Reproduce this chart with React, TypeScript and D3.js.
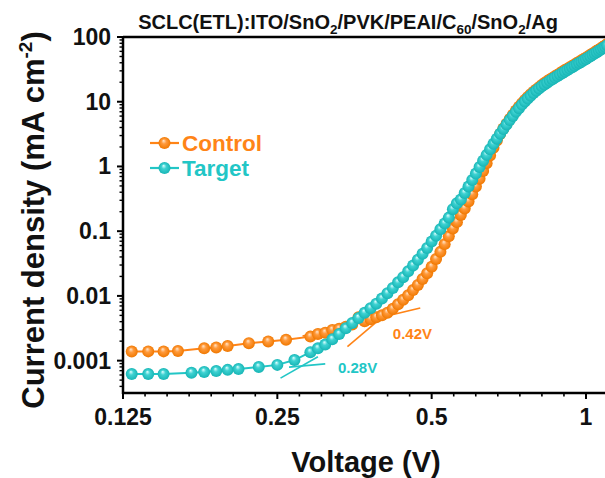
import React from 'react';
import * as d3 from 'd3';

const W = 605;
const H = 478;
const FONT = "'Liberation Sans', Arial, Helvetica, sans-serif";
const ORANGE = '#FF8417';
const CYAN = '#22C6C6';

// Control (orange) — voltage (V) and current density (mA cm^-2)
const controlV = [
  0.13, 0.14, 0.15, 0.16, 0.18, 0.19, 0.2, 0.22, 0.24, 0.26, 0.29, 0.3, 0.31, 0.32, 0.33, 0.34,
  0.35, 0.36, 0.37, 0.38, 0.39, 0.4, 0.41, 0.42, 0.43, 0.44, 0.45, 0.46, 0.47, 0.48, 0.49, 0.5,
  0.51, 0.52, 0.53, 0.54, 0.55, 0.56, 0.57, 0.58, 0.59, 0.6, 0.61, 0.62, 0.63, 0.64, 0.65, 0.66,
  0.67, 0.68, 0.69, 0.7, 0.71, 0.72, 0.73, 0.74, 0.75, 0.76, 0.77, 0.78, 0.79, 0.8, 0.81, 0.82,
  0.83, 0.84, 0.85, 0.86, 0.87, 0.88, 0.89, 0.9, 0.91, 0.92, 0.93, 0.94, 0.95, 0.96, 0.97, 0.98,
  0.99, 1.0, 1.01, 1.02, 1.03, 1.04, 1.05, 1.06, 1.07, 1.08, 1.09, 1.1,
];
const controlJ = [
  0.00138, 0.00139, 0.00139, 0.00141, 0.00155, 0.0016, 0.00168, 0.00186, 0.00198, 0.0021, 0.00235, 0.00258, 0.0027, 0.00298, 0.0031, 0.00335,
  0.00363, 0.00468, 0.00407, 0.00437, 0.00468, 0.00501, 0.0055, 0.00631, 0.00741, 0.00871, 0.0102, 0.0123, 0.0148, 0.0182, 0.0224, 0.0282,
  0.0372, 0.0479, 0.0631, 0.0832, 0.11, 0.138, 0.178, 0.224, 0.288, 0.372, 0.49, 0.646, 0.851, 1.12, 1.48, 1.95,
  2.51, 3.16, 3.85, 4.57, 5.41, 6.31, 7.29, 8.34, 9.44, 10.6, 11.8, 13.0, 14.3, 15.5, 16.8, 18.1,
  19.4, 20.7, 22.0, 23.3, 24.7, 26.1, 27.6, 29.2, 30.8, 32.4, 34.0, 35.8, 37.7, 39.5, 41.5, 43.6,
  45.7, 48.0, 50.4, 52.8, 55.5, 58.2, 61.1, 64.1, 67.3, 70.6, 74.1, 77.8,
];

// Target (cyan)
const targetV = [
  0.13, 0.14, 0.15, 0.17, 0.18, 0.19, 0.2, 0.21, 0.23, 0.25, 0.27, 0.29, 0.3, 0.31, 0.32, 0.33,
  0.34, 0.35, 0.36, 0.37, 0.38, 0.39, 0.4, 0.41, 0.42, 0.43, 0.44, 0.45, 0.46, 0.47, 0.48, 0.49,
  0.5, 0.51, 0.52, 0.53, 0.54, 0.55, 0.56, 0.57, 0.58, 0.59, 0.6, 0.61, 0.62, 0.63, 0.64, 0.65,
  0.66, 0.67, 0.68, 0.69, 0.7, 0.71, 0.72, 0.73, 0.74, 0.75, 0.76, 0.77, 0.78, 0.79, 0.8, 0.81,
  0.82, 0.83, 0.84, 0.85, 0.86, 0.87, 0.88, 0.89, 0.9, 0.91, 0.92, 0.93, 0.94, 0.95, 0.96, 0.97,
  0.98, 0.99, 1.0, 1.01, 1.02, 1.03, 1.04, 1.05, 1.06, 1.07, 1.08, 1.09, 1.1,
];
const targetJ = [
  0.00062, 0.00062, 0.00062, 0.00065, 0.00067, 0.00069, 0.00072, 0.00074, 0.0008, 0.00086, 0.00102, 0.00135, 0.00155, 0.00178, 0.00214, 0.00257,
  0.00316, 0.0038, 0.00457, 0.0055, 0.00646, 0.00759, 0.00912, 0.011, 0.0132, 0.0162, 0.0195, 0.024, 0.0295, 0.0363, 0.0447, 0.055,
  0.0692, 0.0851, 0.107, 0.132, 0.162, 0.219, 0.269, 0.309, 0.389, 0.49, 0.617, 0.776, 0.977, 1.23, 1.51, 1.84,
  2.24, 2.69, 3.2, 3.78, 4.45, 5.2, 6.04, 6.97, 7.96, 9.02, 10.1, 11.2, 12.4, 13.6, 14.8, 16.0,
  17.3, 18.5, 19.7, 21.0, 22.3, 23.6, 24.9, 26.4, 27.9, 29.4, 30.9, 32.5, 34.2, 36.0, 37.8, 39.6,
  41.6, 43.7, 45.8, 48.1, 50.5, 53.0, 55.6, 58.3, 61.2, 64.3, 67.5, 70.8, 74.3,
];

// Tangent (fit) lines: [V, J]
const controlFitLow = [[0.28, 0.00239], [0.475, 0.0065]];
const controlFitHigh = [[0.3425, 0.00164], [0.42, 0.0065]];
const targetFitLow = [[0.2635, 0.000794], [0.31, 0.00089]];
const targetFitHigh = [[0.2536, 0.000537], [0.3, 0.00115]];

const xTicks = [0.125, 0.25, 0.5, 1];
const xTickLabels = ['0.125', '0.25', '0.5', '1'];
const yTicks = [0.001, 0.01, 0.1, 1, 10, 100];
const yTickLabels = ['0.001', '0.01', '0.1', '1', '10', '100'];
const seriesNames = ['Control', 'Target'];
const controlThreshold = '0.42V';
const targetThreshold = '0.28V';

const L = 123;
const R = 605;
const T = 37;
const B = 393;

export default function App() {
  const x = d3.scaleLog().base(2).domain([0.125, 1]).range([L, 586]);
  const y = d3.scaleLog().domain([Math.pow(10, -3.5), 100]).range([B, T]);

  const ctrl = controlV.map((v, i) => [v, controlJ[i]] as [number, number]);
  const targ = targetV.map((v, i) => [v, targetJ[i]] as [number, number]);
  const line = d3
    .line<[number, number]>()
    .x((d) => x(d[0]))
    .y((d) => y(d[1]));

  const xMinor: number[] = [];
  for (let j = -3; j <= 0; j++) {
    for (let i = 1; i <= 6; i++) {
      const v = Math.pow(2, j + i / 7);
      if (x(v) <= R) xMinor.push(v);
    }
  }
  const yMinor: number[] = [];
  for (let e = -4; e <= 1; e++) {
    for (let m = 2; m <= 9; m++) {
      const v = m * Math.pow(10, e);
      const py = y(v);
      if (py <= B && py >= T) yMinor.push(v);
    }
  }

  const renderSeries = (data: [number, number][], color: string, grad: string, fits: number[][][]) => (
    <g>
      <path d={line(data) || ''} fill="none" stroke={color} strokeWidth={2} />
      {fits.map((f, i) => (
        <path key={i} d={line(f as [number, number][]) || ''} fill="none" stroke={color} strokeWidth={1.6} />
      ))}
      {data.map((d, i) => (
        <circle key={i} cx={x(d[0])} cy={y(d[1])} r={6} fill={`url(#${grad})`} />
      ))}
    </g>
  );

  const legendItems = [
    { name: seriesNames[0], color: ORANGE, grad: 'gO', y: 143 },
    { name: seriesNames[1], color: CYAN, grad: 'gC', y: 168 },
  ];

  return (
    <svg
      width={W}
      height={H}
      style={{ position: 'absolute', left: 0, top: 0, background: '#fff' }}
      fontFamily={FONT}
    >
      <defs>
        <radialGradient id="gO" cx="0.5" cy="0.5" r="0.5" fx="0.42" fy="0.3">
          <stop offset="0%" stopColor="#FFE6CC" />
          <stop offset="40%" stopColor="#FF9A3C" />
          <stop offset="100%" stopColor="#F07800" />
        </radialGradient>
        <radialGradient id="gC" cx="0.5" cy="0.5" r="0.5" fx="0.42" fy="0.3">
          <stop offset="0%" stopColor="#E0FFFF" />
          <stop offset="40%" stopColor="#3ED2D2" />
          <stop offset="100%" stopColor="#17B5B5" />
        </radialGradient>
        <clipPath id="plotClip">
          <rect x={L} y={T - 8} width={R - L + 10} height={B - T + 8} />
        </clipPath>
      </defs>
      <rect x={0} y={0} width={W} height={H} fill="#fff" />

      {/* Title */}
      <text x={348} y={29} textAnchor="middle" fontSize={20} fontWeight="bold" fill="#111">
        SCLC(ETL):ITO/SnO
        <tspan fontSize={13.5} dy={5}>2</tspan>
        <tspan dy={-5}>/PVK/PEAI/C</tspan>
        <tspan fontSize={13.5} dy={5}>60</tspan>
        <tspan dy={-5}>/SnO</tspan>
        <tspan fontSize={13.5} dy={5}>2</tspan>
        <tspan dy={-5}>/Ag</tspan>
      </text>

      {/* Data */}
      <g clipPath="url(#plotClip)">
        {renderSeries(ctrl, ORANGE, 'gO', [controlFitLow, controlFitHigh])}
        {renderSeries(targ, CYAN, 'gC', [targetFitLow, targetFitHigh])}
      </g>

      {/* Threshold labels */}
      <text x={x(0.42)} y={339} fontSize={15} fontWeight="bold" fill={ORANGE}>
        {controlThreshold}
      </text>
      <text x={338} y={373} fontSize={15} fontWeight="bold" fill={CYAN}>
        {targetThreshold}
      </text>

      {/* Axes frame */}
      <line x1={L} x2={R} y1={T} y2={T} stroke="#000" strokeWidth={2.5} />
      <line x1={L} x2={R} y1={B} y2={B} stroke="#000" strokeWidth={2.5} />
      <line x1={L} x2={L} y1={T - 1} y2={B + 1} stroke="#000" strokeWidth={2.5} />

      {/* X ticks */}
      {xTicks.map((v, i) => (
        <g key={v}>
          <line x1={x(v)} x2={x(v)} y1={B} y2={B + 6} stroke="#000" strokeWidth={2} />
          <text x={x(v)} y={425} textAnchor="middle" fontSize={23} fontWeight="bold" fill="#111">
            {xTickLabels[i]}
          </text>
        </g>
      ))}
      {xMinor.map((v) => (
        <line key={v} x1={x(v)} x2={x(v)} y1={B} y2={B + 3.5} stroke="#000" strokeWidth={1.6} />
      ))}

      {/* Y ticks */}
      {yTicks.map((v, i) => (
        <g key={v}>
          <line x1={L - 6} x2={L} y1={y(v)} y2={y(v)} stroke="#000" strokeWidth={2} />
          <text x={111} y={y(v) + 8} textAnchor="end" fontSize={23} fontWeight="bold" fill="#111">
            {yTickLabels[i]}
          </text>
        </g>
      ))}
      {yMinor.map((v) => (
        <line key={v} x1={L - 3.5} x2={L} y1={y(v)} y2={y(v)} stroke="#000" strokeWidth={1.4} />
      ))}

      {/* Axis titles */}
      <text x={366} y={472} textAnchor="middle" fontSize={29} fontWeight="bold" fill="#111">
        Voltage (V)
      </text>
      <text
        transform={`translate(44, 220) rotate(-90)`}
        textAnchor="middle"
        fontSize={31}
        fontWeight="bold"
        fill="#111"
      >
        Current density (mA cm
        <tspan fontSize={19} dy={-12}>-2</tspan>
        <tspan dy={12}>)</tspan>
      </text>

      {/* Legend */}
      {legendItems.map((it) => (
        <g key={it.name}>
          <line x1={150} x2={179} y1={it.y} y2={it.y} stroke={it.color} strokeWidth={2.2} />
          <circle cx={164.5} cy={it.y} r={6} fill={`url(#${it.grad})`} />
          <text x={182} y={it.y + 8} fontSize={22.5} fontWeight="bold" fill={it.color}>
            {it.name}
          </text>
        </g>
      ))}
    </svg>
  );
}
